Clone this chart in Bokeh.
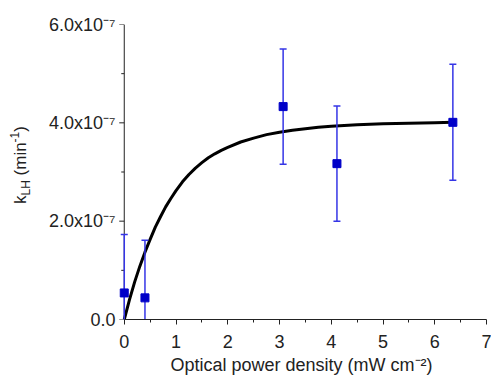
import math
from bokeh.plotting import figure
from bokeh.models import Range1d, FixedTicker, Div
from bokeh.layouts import row
from bokeh.embed import file_html
from bokeh.resources import INLINE

# ---- data ----
x_data = [0.0, 0.40, 3.07, 4.11, 6.35]
k_data = [0.54e-7, 0.44e-7, 4.33e-7, 3.17e-7, 4.01e-7]
k_err = [1.19e-7, 1.17e-7, 1.17e-7, 1.17e-7, 1.18e-7]

fit_x = [0.0, 0.1, 0.2, 0.3, 0.4, 0.5, 0.6, 0.7, 0.8, 0.9, 1.0, 1.125, 1.25,
         1.375, 1.5, 1.625, 1.75, 1.875, 2.0, 2.25, 2.5, 2.75, 3.0, 3.25,
         3.5, 3.75, 4.0, 4.5, 5.0, 5.5, 6.0, 6.35]
fit_k = [0.0, 0.40e-7, 0.76e-7, 1.08e-7, 1.37e-7, 1.63e-7, 1.88e-7, 2.09e-7,
         2.29e-7, 2.46e-7, 2.62e-7, 2.80e-7, 2.95e-7, 3.08e-7, 3.19e-7,
         3.29e-7, 3.37e-7, 3.44e-7, 3.50e-7, 3.61e-7, 3.69e-7, 3.76e-7,
         3.81e-7, 3.85e-7, 3.88e-7, 3.91e-7, 3.93e-7, 3.96e-7, 3.98e-7,
         3.99e-7, 4.00e-7, 4.01e-7]

x_ticks = [0, 1, 2, 3, 4, 5, 6, 7]
x_minor = [0.5, 1.5, 2.5, 3.5, 4.5, 5.5, 6.5]
y_ticks = [0.0, 2e-7, 4e-7, 6e-7]
y_minor = [1e-7, 3e-7, 5e-7]
y_tick_labels = ["0.0", "2.0x10⁻⁷", "4.0x10⁻⁷", "6.0x10⁻⁷"]

x_label = "Optical power density (mW cm⁻²)"
y_label_html = ('k<span style="font-size:12px;position:relative;top:4px">LH</span>'
                ' (min<span style="font-size:12px;position:relative;top:-7px">-1</span>)')

FONT = "Liberation Sans"
FS = 18
AX = "#222222"

DIV_W = 36
L, R, T, B = 116 - DIV_W, 5, 24, 58
p = figure(width=491 - DIV_W, height=377, output_backend="svg",
           toolbar_location=None, margin=0,
           x_range=Range1d(-0.15, 7), y_range=Range1d(0, 6e-7))
p.min_border_left = L
p.min_border_right = R
p.min_border_top = T
p.min_border_bottom = B
p.outline_line_color = None
p.xgrid.visible = False
p.ygrid.visible = False
p.background_fill_color = "white"
p.border_fill_color = "white"

# x axis
xa = p.xaxis[0]
xa.ticker = FixedTicker(ticks=x_ticks, minor_ticks=x_minor)
xa.bounds = (0, 7)
xa.axis_line_color = AX
xa.major_tick_line_color = AX
xa.minor_tick_line_color = AX
xa.major_tick_in = 0
xa.major_tick_out = 5
xa.minor_tick_in = 0
xa.minor_tick_out = 3
xa.major_label_text_font = FONT
xa.major_label_text_font_size = f"{FS}px"
xa.major_label_text_color = AX
xa.major_label_standoff = 10
xa.axis_label = x_label
xa.axis_label_text_font = FONT
xa.axis_label_text_font_size = f"{FS}px"
xa.axis_label_text_font_style = "normal"
xa.axis_label_text_color = AX
xa.axis_label_standoff = 4

# y axis: labels from Bokeh, line and ticks drawn at x = 0
ya = p.yaxis[0]
ya.ticker = FixedTicker(ticks=y_ticks, minor_ticks=y_minor)
ya.major_label_overrides = dict(zip(y_ticks, y_tick_labels))
ya.axis_line_color = None
ya.major_tick_line_color = None
ya.minor_tick_line_color = None
ya.major_tick_out = 0
ya.minor_tick_out = 0
ya.major_tick_in = 0
ya.minor_tick_in = 0
ya.major_label_standoff = 1
ya.major_label_text_font = FONT
ya.major_label_text_font_size = f"{FS}px"
ya.major_label_text_color = AX

p.segment(x0=[0], y0=[y_ticks[0]], x1=[0], y1=[y_ticks[-1]], line_color=AX,
          line_width=1)
p.ray(x=[0] * len(y_ticks), y=y_ticks, length=5, length_units="screen",
      angle=math.pi, line_color=AX, line_width=1)
p.ray(x=[0] * len(y_minor), y=y_minor, length=3, length_units="screen",
      angle=math.pi, line_color=AX, line_width=1)

# fit curve
p.line(fit_x, fit_k, line_color="black", line_width=3, line_join="round")

# error bars
lo = [k - e for k, e in zip(k_data, k_err)]
hi = [k + e for k, e in zip(k_data, k_err)]
EB = "#3535e6"
p.segment(x0=x_data, y0=lo, x1=x_data, y1=hi, line_color=EB, line_width=1.5)
p.scatter(x_data, hi, marker="dash", size=7, line_color=EB, line_width=1.5)
p.scatter(x_data, lo, marker="dash", size=7, line_color=EB, line_width=1.5)

# data points
p.scatter(x_data, k_data, marker="square", size=8, fill_color="#0000c8",
          line_color="#0000c8")

# rotated y axis title
ylab = Div(width=DIV_W, height=377, margin=0, text=(
    '<div style="position:absolute;left:12px;top:204px;'
    'transform-origin:0 0;transform:rotate(-90deg);white-space:nowrap;'
    f"font-family:'{FONT}';font-size:17px;line-height:1;color:{AX}\">"
    + y_label_html + '</div>'),
    styles={"overflow": "visible", "position": "relative"})

layout = row(ylab, p, spacing=0, margin=0)
open("out.html", "w").write(file_html(layout, INLINE))
